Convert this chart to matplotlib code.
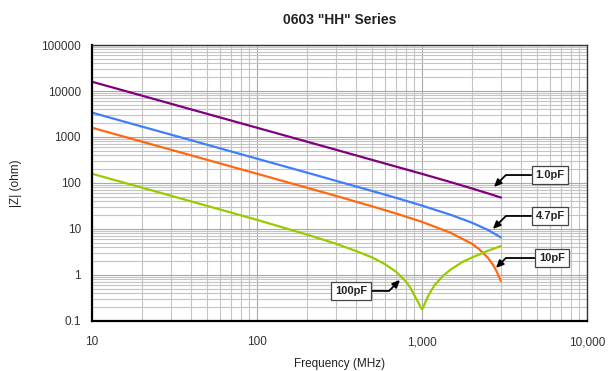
import matplotlib
matplotlib.use("Agg")
import matplotlib.pyplot as plt
from matplotlib.ticker import FixedLocator, FixedFormatter, LogLocator, NullFormatter

plt.rcParams['font.family'] = ['Liberation Sans', 'DejaVu Sans']

# frequency points (MHz) and |Z| (ohm)
freq = [10, 20, 30, 50, 100, 200, 300, 500, 700, 1000, 1500, 2000, 2500, 3000]
z_1p0 = [15900, 7960, 5300, 3180, 1590, 795, 530, 317, 226, 158, 104, 76.4, 59.7, 48.5]
z_4p7 = [3390, 1690, 1130, 677, 338, 169, 112, 66.9, 47.3, 32.3, 20.2, 13.8, 9.6, 6.6]

freq_10p = [10, 20, 30, 50, 100, 200, 300, 500, 700, 1000, 1500, 2000, 2200, 2500, 2700, 2800, 2900, 3000]
z_10p = [1590, 796, 530, 318, 159, 79.3, 52.6, 31.0, 21.6, 14.3, 8.2, 4.8, 3.75, 2.4, 1.65, 1.3, 1.0, 0.75]

freq_100p = [10, 20, 30, 50, 100, 200, 300, 400, 500, 600, 700, 800, 850, 900, 950, 980, 1000,
             1020, 1050, 1100, 1150, 1200, 1350, 1500, 1750, 2000, 2500, 3000]
z_100p = [159, 79.6, 53.0, 31.7, 15.8, 7.6, 4.8, 3.3, 2.4, 1.7, 1.16, 0.72, 0.53, 0.36, 0.25, 0.2, 0.18,
          0.2, 0.26, 0.37, 0.49, 0.62, 0.98, 1.33, 1.9, 2.38, 3.34, 4.25]

colors = {"1.0pF": "#800080", "4.7pF": "#3f7ffc", "10pF": "#ff6a10", "100pF": "#99cc00"}

# label box centre, arrow tip
labels = {
    "1.0pF": ((5970, 149), (2730, 82)),
    "4.7pF": ((5970, 19.2), (2690, 10)),
    "10pF": ((6140, 2.34), (2805, 1.42)),
    "100pF": ((372, 0.45), (736, 0.78)),
}

fig = plt.figure(figsize=(6.14, 3.71), dpi=100)
ax = fig.add_axes([0.1498, 0.1348, 0.8062, 0.7439])

ax.plot(freq, z_1p0, color=colors["1.0pF"], lw=1.6)
ax.plot(freq, z_4p7, color=colors["4.7pF"], lw=1.6)
ax.plot(freq_10p, z_10p, color=colors["10pF"], lw=1.6)
ax.plot(freq_100p, z_100p, color=colors["100pF"], lw=1.6)

ax.set_xscale("log")
ax.set_yscale("log")
ax.set_xlim(10, 10000)
ax.set_ylim(0.1, 100000)

xt = [10, 100, 1000, 10000]
ax.xaxis.set_major_locator(FixedLocator(xt))
ax.xaxis.set_major_formatter(FixedFormatter(["10", "100", "1,000", "10,000"]))
ax.xaxis.set_minor_locator(LogLocator(base=10, subs=range(2, 10)))
ax.xaxis.set_minor_formatter(NullFormatter())
yt = [0.1, 1, 10, 100, 1000, 10000, 100000]
ax.yaxis.set_major_locator(FixedLocator(yt))
ax.yaxis.set_major_formatter(FixedFormatter(["0.1", "1", "10", "100", "1000", "10000", "100000"]))
ax.yaxis.set_minor_locator(LogLocator(base=10, subs=range(2, 10)))
ax.yaxis.set_minor_formatter(NullFormatter())

ax.grid(which="major", color="#a8a8a8", lw=0.8)
ax.grid(which="minor", color="#c4c4c4", lw=0.8)
ax.set_axisbelow(True)
ax.tick_params(which="both", length=0, labelsize=8.5, labelcolor="#333333")
ax.tick_params(axis="x", pad=11)
ax.tick_params(axis="y", pad=8)

for s in ["top", "right"]:
    ax.spines[s].set_linewidth(1.0)
    ax.spines[s].set_color("#333333")
for s in ["left", "bottom"]:
    ax.spines[s].set_linewidth(1.6)
    ax.spines[s].set_color("black")

for name, (box, tip) in labels.items():
    ax.annotate(name, xy=tip, xytext=box, ha="center", va="center",
                fontsize=8, fontweight="bold", color="#222222",
                bbox=dict(boxstyle="square,pad=0.35", fc="white", ec="#444444", lw=0.9),
                arrowprops=dict(arrowstyle="-|>,head_length=0.55,head_width=0.25", color="black", lw=1.3,
                                connectionstyle="angle,angleA=0,angleB=45,rad=0",
                                shrinkA=0, shrinkB=0))

ax.set_title('0603 "HH" Series', fontsize=10, fontweight="bold", color="#222222", pad=15)
ax.set_xlabel("Frequency (MHz)", fontsize=8.5, color="#222222", labelpad=7)
ax.set_ylabel("|Z| (ohm)", fontsize=8.5, color="#222222", labelpad=14)

fig.savefig("out.png", dpi=100)
